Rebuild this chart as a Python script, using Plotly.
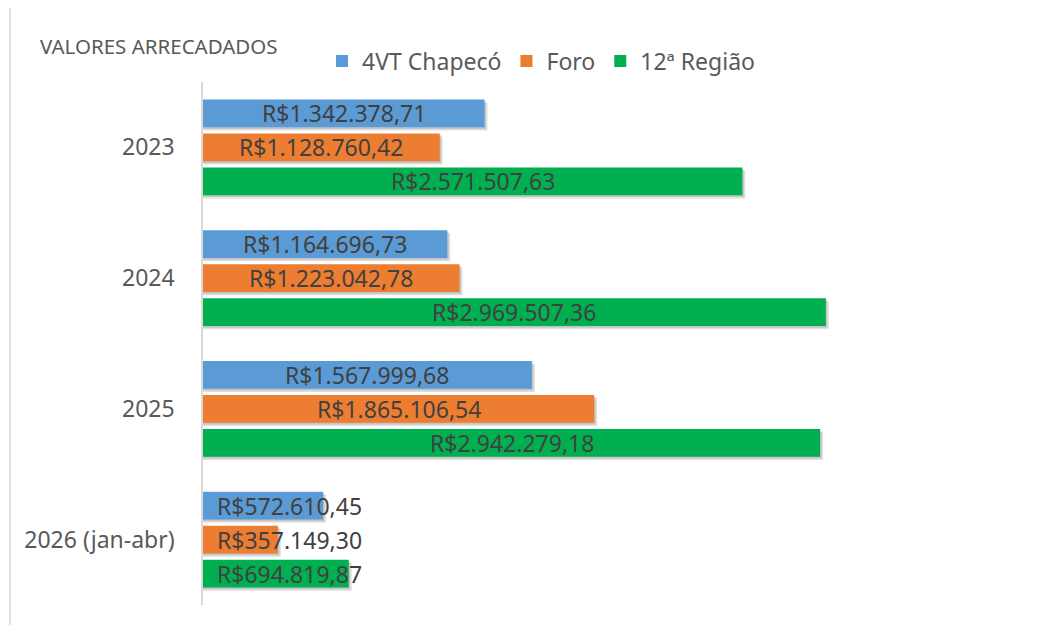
import plotly.graph_objects as go

categories = ["2023", "2024", "2025", "2026 (jan-abr)"]
series_names = ["4VT Chapecó", "Foro", "12ª Região"]
vt_chapeco = [1342378.71, 1164696.73, 1567999.68, 572610.45]
foro = [1128760.42, 1223042.78, 1865106.54, 357149.30]
regiao12 = [2571507.63, 2969507.36, 2942279.18, 694819.87]
labels_vt = ["R$1.342.378,71", "R$1.164.696,73", "R$1.567.999,68", "R$572.610,45"]
labels_foro = ["R$1.128.760,42", "R$1.223.042,78", "R$1.865.106,54", "R$357.149,30"]
labels_reg = ["R$2.571.507,63", "R$2.969.507,36", "R$2.942.279,18", "R$694.819,87"]

series = [
    (series_names[0], vt_chapeco, labels_vt, "#5b9bd5"),
    (series_names[1], foro, labels_foro, "#ed7d31"),
    (series_names[2], regiao12, labels_reg, "#00b050"),
]

X_MAX = 4000000
W = 0.214
STEP = 0.26
centers = [-STEP, 0.0, STEP]

# page body has an 8px margin; figure geometry set so plot area spans px 203..1042, 82..605
OFF = 8
L, R, T, B = 195, 21, 74, 20
FW, FH = 1063 - OFF, 625 - OFF
PW = FW - L - R
PH = FH - T - B


def px_x(p):
    return (p - OFF - L) / PW


def px_y(p):
    return (FH - B - (p - OFF)) / PH


fig = go.Figure()
idx = list(range(len(categories)))

# soft shadows
for k, (name, vals, labs, col) in enumerate(series):
    fig.add_trace(go.Bar(
        y=idx, x=[v + 14000 for v in vals], orientation="h",
        width=W, offset=centers[k] - W / 2 + 0.024,
        marker=dict(color="rgba(0,0,0,0.12)", line=dict(width=0)),
        showlegend=False, hoverinfo="skip",
    ))
    fig.add_trace(go.Bar(
        y=idx, x=[v + 7000 for v in vals], orientation="h",
        width=W, offset=centers[k] - W / 2 + 0.012,
        marker=dict(color="rgba(0,0,0,0.12)", line=dict(width=0)),
        showlegend=False, hoverinfo="skip",
    ))

for k, (name, vals, labs, col) in enumerate(series):
    fig.add_trace(go.Bar(
        y=idx, x=vals, orientation="h", name=name,
        width=W, offset=centers[k] - W / 2,
        marker=dict(color=col, line=dict(width=0)),
    ))

LABEL_FONT = dict(family="Noto Sans", size=23, color="#404040")
annotations = []
for k, (name, vals, labs, col) in enumerate(series):
    for i, (v, lab) in enumerate(zip(vals, labs)):
        if v >= 1000000:
            annotations.append(dict(x=v / 2, y=i + centers[k], xref="x", yref="y",
                                    text=lab, showarrow=False, xanchor="center",
                                    font=LABEL_FONT))
        else:
            annotations.append(dict(x=0, y=i + centers[k], xref="x", yref="y",
                                    text=lab, showarrow=False, xanchor="left", xshift=12,
                                    font=LABEL_FONT))

annotations.append(dict(x=px_x(38), y=px_y(46), xref="paper", yref="paper",
                        text="VALORES ARRECADADOS", showarrow=False, xanchor="left", yanchor="middle",
                        font=dict(family="Noto Sans", size=20.5, color="#595959")))

fig.update_layout(
    width=FW, height=FH,
    margin=dict(l=L, r=R, t=T, b=B),
    barmode="overlay",
    plot_bgcolor="white", paper_bgcolor="white",
    showlegend=True,
    legend=dict(orientation="h", x=px_x(322), y=px_y(61),
                xanchor="left", yanchor="middle",
                font=dict(family="Noto Sans", size=23, color="#595959"),
                itemwidth=30, traceorder="normal", bgcolor="rgba(0,0,0,0)"),
    xaxis=dict(range=[0, X_MAX], showgrid=False, showticklabels=False, zeroline=False,
               showline=False, fixedrange=True),
    yaxis=dict(range=[3.5, -0.5], tickmode="array", tickvals=idx, ticktext=categories,
               showgrid=False, zeroline=False, showline=True, linecolor="#d9d9d9", linewidth=1.5,
               ticks="", ticklabelstandoff=22,
               tickfont=dict(family="Noto Sans", size=23, color="#595959")),
    annotations=annotations,
    shapes=[dict(type="line", xref="paper", yref="paper",
                 x0=px_x(10), x1=px_x(10), y0=px_y(640), y1=px_y(-10),
                 line=dict(color="#d9d9d9", width=1.5))],
)

fig.write_html("out.html")
